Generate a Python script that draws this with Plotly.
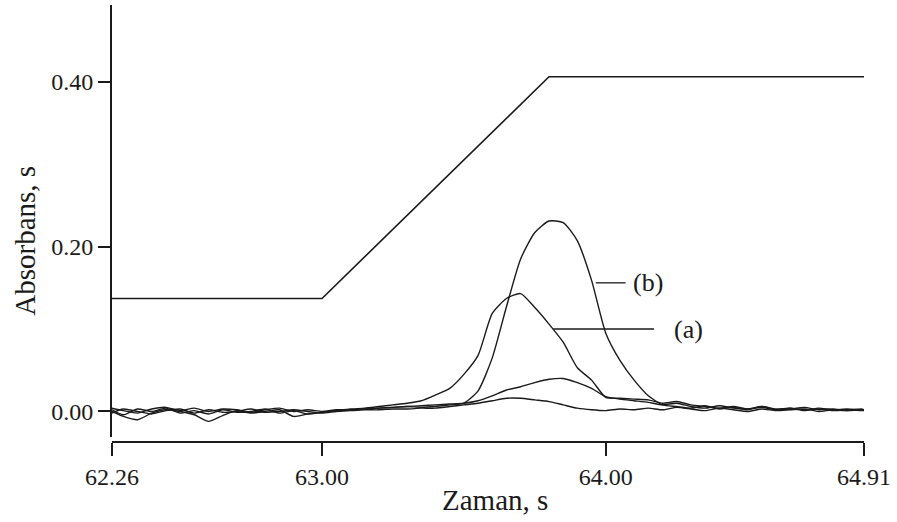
import plotly.graph_objects as go

# ---- data ----
time_s = [62.26, 62.30, 62.35, 62.40, 62.45, 62.50, 62.55, 62.60, 62.65, 62.70,
          62.75, 62.80, 62.85, 62.90, 62.95, 63.00, 63.05, 63.10, 63.15, 63.20,
          63.25, 63.30, 63.35, 63.40, 63.45, 63.50, 63.55, 63.60, 63.65, 63.70,
          63.75, 63.80, 63.85, 63.90, 63.95, 64.00, 64.05, 64.10, 64.15, 64.20,
          64.25, 64.30, 64.35, 64.40, 64.45, 64.50, 64.55, 64.60, 64.65, 64.70,
          64.75, 64.80, 64.85, 64.90, 64.91]

signal_b = [0.002, -0.004, 0.003, 0.000, 0.004, -0.002, 0.001, -0.003, 0.002, -0.001,
            0.000, 0.003, -0.002, 0.001, -0.003, -0.001, 0.001, 0.002, 0.003, 0.004,
            0.005, 0.006, 0.005, 0.006, 0.008, 0.010, 0.025, 0.065, 0.127, 0.185,
            0.217, 0.231, 0.229, 0.207, 0.159, 0.095, 0.062, 0.038, 0.019, 0.008,
            0.006, 0.004, 0.007, 0.003, 0.005, 0.002, 0.006, 0.003, 0.004, 0.001,
            0.004, 0.002, 0.003, 0.002, 0.002]

signal_a = [0.000, -0.006, -0.010, -0.002, 0.002, 0.000, -0.004, -0.012, -0.005, 0.001,
            -0.002, 0.000, 0.002, -0.006, -0.003, -0.001, 0.001, 0.003, 0.004, 0.006,
            0.008, 0.010, 0.013, 0.020, 0.028, 0.045, 0.068, 0.119, 0.137, 0.143,
            0.126, 0.106, 0.084, 0.053, 0.038, 0.017, 0.016, 0.015, 0.014, 0.010,
            0.012, 0.008, 0.006, 0.004, 0.006, 0.003, 0.005, 0.002, 0.004, 0.002,
            0.003, 0.001, 0.002, 0.001, 0.001]

signal_c = [0.004, 0.001, -0.002, 0.003, 0.005, 0.001, 0.004, 0.000, 0.003, 0.002,
            -0.001, 0.002, 0.004, 0.000, 0.002, 0.000, 0.002, 0.002, 0.003, 0.004,
            0.005, 0.006, 0.007, 0.008, 0.009, 0.010, 0.013, 0.019, 0.026, 0.030,
            0.035, 0.039, 0.040, 0.035, 0.028, 0.018, 0.015, 0.013, 0.011, 0.008,
            0.010, 0.006, 0.004, 0.007, 0.004, 0.003, 0.006, 0.002, 0.003, 0.005,
            0.002, 0.003, 0.001, 0.002, 0.002]

signal_d = [-0.002, 0.003, 0.000, -0.003, 0.001, 0.003, -0.002, 0.002, -0.001, 0.000,
            0.003, -0.001, 0.000, 0.002, 0.000, -0.002, 0.000, 0.001, 0.002, 0.002,
            0.003, 0.003, 0.004, 0.004, 0.006, 0.008, 0.010, 0.013, 0.016, 0.016,
            0.014, 0.012, 0.008, 0.004, 0.002, 0.001, 0.003, 0.002, 0.004, 0.002,
            0.005, 0.003, 0.001, 0.004, 0.002, 0.000, 0.003, 0.001, 0.002, 0.003,
            0.000, 0.002, 0.001, 0.003, 0.002]

ramp_time = [62.26, 63.00, 63.80, 64.91]
ramp_value = [0.137, 0.137, 0.406, 0.406]

x_tick_vals = [62.26, 63.00, 64.00, 64.91]
x_tick_text = ["62.26", "63.00", "64.00", "64.91"]
y_tick_vals = [0.0, 0.2, 0.4]
y_tick_text = ["0.00", "0.20", "0.40"]

label_b = {"text": "(b)", "x0": 63.965, "x1": 64.07, "y": 0.156, "tx": 64.15}
label_a = {"text": "(a)", "x0": 63.815, "x1": 64.17, "y": 0.100, "tx": 64.29}

# ---- figure ----
FONT = "Liberation Serif, Times New Roman, serif"
INK = "#1a1a1a"

fig = go.Figure()
for ys in (signal_d, signal_c, signal_a, signal_b):
    fig.add_trace(go.Scatter(x=time_s, y=ys, mode="lines",
                             line=dict(color=INK, width=1.4, shape="spline", smoothing=0.6),
                             hoverinfo="skip", showlegend=False))
fig.add_trace(go.Scatter(x=ramp_time, y=ramp_value, mode="lines",
                         line=dict(color=INK, width=1.6),
                         hoverinfo="skip", showlegend=False))

for lab in (label_b, label_a):
    fig.add_shape(type="line", xref="x", yref="y", x0=lab["x0"], x1=lab["x1"],
                  y0=lab["y"], y1=lab["y"], line=dict(color=INK, width=1.3))
    fig.add_annotation(x=lab["tx"], y=lab["y"], xref="x", yref="y", text=lab["text"],
                       showarrow=False, xanchor="center", yanchor="middle",
                       font=dict(family=FONT, size=26, color=INK))

fig.add_annotation(text="Absorbans, s", xref="paper", yref="paper",
                   x=-0.116, y=0.46, textangle=-90, showarrow=False,
                   xanchor="center", yanchor="middle",
                   font=dict(family=FONT, size=29, color=INK))
fig.add_annotation(text="Zaman, s", xref="paper", yref="paper",
                   x=0.509, y=-0.133, showarrow=False,
                   xanchor="center", yanchor="middle",
                   font=dict(family=FONT, size=29, color=INK))

fig.update_layout(
    width=897, height=522,
    margin=dict(l=112, r=33, t=5, b=80),
    paper_bgcolor="white", plot_bgcolor="white",
    font=dict(family=FONT, size=24, color=INK),
    xaxis=dict(range=[62.26, 64.91], anchor="free", position=0,
               showline=True, linecolor=INK, linewidth=2,
               ticks="outside", ticklen=13, tickwidth=2, tickcolor=INK,
               tickvals=x_tick_vals, ticktext=x_tick_text,
               showgrid=False, zeroline=False,
               tickfont=dict(family=FONT, size=24, color=INK)),
    yaxis=dict(range=[-0.031, 0.493], domain=[0.0114, 1],
               showline=True, linecolor=INK, linewidth=2,
               ticks="outside", ticklen=12, tickwidth=2, tickcolor=INK,
               tickvals=y_tick_vals, ticktext=y_tick_text,
               showgrid=False, zeroline=False,
               tickfont=dict(family=FONT, size=24, color=INK)),
)

fig.write_html("out.html",
               config={"displayModeBar": False, "staticPlot": True},
               post_script="document.body.style.margin='0';document.body.style.overflow='hidden';")
